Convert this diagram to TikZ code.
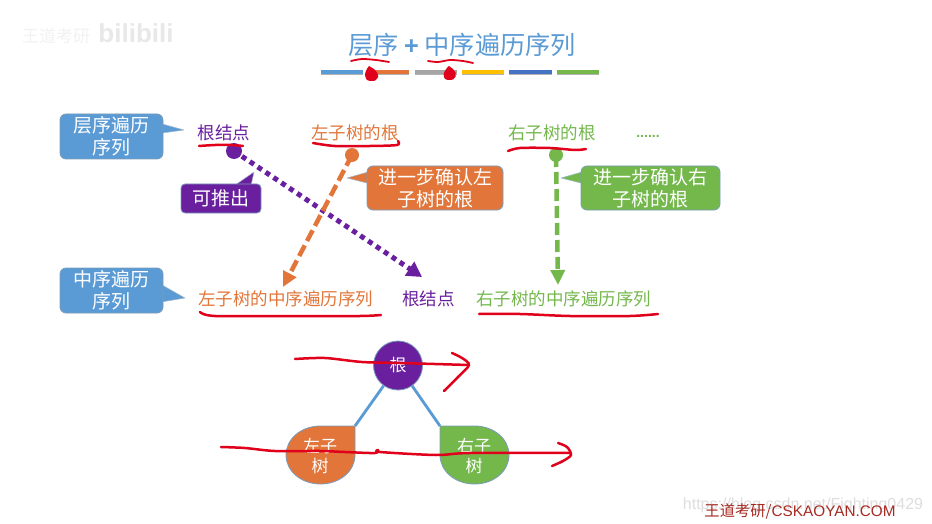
\documentclass[tikz,border=0pt]{standalone}
\usepackage{fontspec}
\setmainfont{Noto Sans CJK SC}
\newfontfamily\latinfont{Liberation Sans}
\usetikzlibrary{arrows.meta,shadows}
\definecolor{cblue}{HTML}{5B9BD5}
\definecolor{corange}{HTML}{E2763A}
\definecolor{cgreen}{HTML}{74B84C}
\definecolor{cpurple}{HTML}{6A209E}
\definecolor{cgray}{HTML}{A5A5A5}
\definecolor{cyellow}{HTML}{FFC000}
\definecolor{cdark}{HTML}{4472C4}
\definecolor{cedge}{HTML}{41719C}
\definecolor{cred}{HTML}{E0001B}
\definecolor{ccredit}{HTML}{A52A22}
\tikzset{
  fs/.style={font=\fontsize{#1}{22}\selectfont},
  lab/.style={inner sep=0pt,fs=17.5},
  box/.style={draw=cedge!70,line width=0.8pt,rounded corners=6pt,inner sep=0pt,align=center,text=white,fs=19},
  tail/.style={draw=cedge!50,line width=0.5pt,line join=round},
  bar/.style={line width=4pt,preaction={draw=black!30,line width=4pt,transform canvas={yshift=-1.5pt}}},
  dot/.style={circle,inner sep=0pt,minimum size=#1},
  ink/.style={draw=cred,line width=2.5pt,line cap=round,line join=round},
  tree/.style={draw=cedge!70,line width=0.8pt},
  link/.style={draw=cblue,line width=2.8pt},
  purpleflow/.style={draw=cpurple,line width=5pt,dash pattern=on 5pt off 4.5pt,-{Triangle[length=15pt,width=16pt,fill=cpurple]}},
  flow/.style={line width=4.5pt,dash pattern=on 12pt off 5pt},
}
\begin{document}
\begin{tikzpicture}[x=1pt,y=-1pt,every node/.append style={anchor=center}]
\useasboundingbox (0,0) rectangle (932,524);
\fill[white] (0,0) rectangle (932,524);

% watermarks
\node (wm1) at (56,36) [inner sep=0pt,font=\fontsize{17}{17}\selectfont,text=black!5] {王道考研};
\node (wm2) at (136,33) [inner sep=0pt,font=\latinfont\bfseries\fontsize{26}{26}\selectfont,text=black!9] {bilibili};
\node (wm3) at (803,505) [inner sep=0pt,font=\latinfont\fontsize{16}{16}\selectfont,text=black!13] {https://blog.csdn.net/Fighting0429};

% title
\node (title) at (462,45) [inner sep=0pt,font=\fontsize{25.2}{25.2}\selectfont,text=cblue] {层序 {\latinfont\bfseries +} 中序遍历序列};

% colour bars
\draw[bar,draw=cblue] (321,72) -- (363,72);
\draw[bar,draw=corange] (368,72) -- (409,72);
\draw[bar,draw=cgray] (415,72) -- (457,72);
\draw[bar,draw=cyellow] (462,72) -- (504,72);
\draw[bar,draw=cdark] (509,72) -- (552,72);
\draw[bar,draw=cgreen] (557,72) -- (599,72);

% callout tails and boxes
\draw[tail,fill=cblue] (155,122) -- (184,130) -- (155,134) -- cycle;
\node (cbA) at (111.5,136.5) [box,fill=cblue,minimum width=103pt,minimum height=45pt] {层序遍历\\序列};
\draw[tail,fill=cblue] (155,281) -- (185,298) -- (155,303) -- cycle;
\node (cbB) at (111.5,290.5) [box,fill=cblue,minimum width=103pt,minimum height=45pt] {中序遍历\\序列};
\draw[tail,fill=cpurple] (228,190) -- (254,172) -- (250,190) -- cycle;
\node (cbC) at (221,198.5) [box,fill=cpurple,rounded corners=4pt,minimum width=80pt,minimum height=29pt] {可推出};
\draw[tail,fill=corange] (375,170) -- (347,178) -- (375,185) -- cycle;
\node (cbD) at (435,188) [box,fill=corange,minimum width=136pt,minimum height=44pt] {进一步确认左\\子树的根};
\draw[tail,fill=cgreen] (589,170) -- (561,178) -- (589,185) -- cycle;
\node (cbE) at (650.5,188) [box,fill=cgreen,minimum width=139pt,minimum height=44pt] {进一步确认右\\子树的根};

% top labels
\node (rootT) at (224,133) [lab,text=cpurple] {根结点};
\node (leftT) at (355,133) [lab,text=corange] {左子树的根};
\node (rightT) at (552,133) [lab,text=cgreen] {右子树的根};
\node (dots) at (648,136) [inner sep=0pt,font=\latinfont\bfseries\fontsize{14}{14}\selectfont,text=cgreen] {......};

% bottom labels
\node (leftB) at (285.5,299) [lab,text=corange] {左子树的中序遍历序列};
\node (rootB) at (428.5,299) [lab,text=cpurple] {根结点};
\node (rightB) at (563.5,299) [lab,text=cgreen] {右子树的中序遍历序列};

% flow connectors
\node (dotP) at (234,151) [dot=16pt,fill=cpurple] {};
\node (dotO) at (352,155) [dot=14pt,fill=corange] {};
\node (dotG) at (556,155) [dot=14pt,fill=cgreen] {};
\coordinate (tipP) at (422,277);
\coordinate (tipO) at (283,287);
\coordinate (tipG) at (558,285);
\draw[purpleflow] (dotP.center) -- (tipP);
\draw[flow,draw=corange,-{Triangle[length=15pt,width=14pt,fill=corange]}] (dotO.center) -- (tipO);
\draw[flow,draw=cgreen,-{Triangle[length=15pt,width=14pt,fill=cgreen]}] (dotG.center) -- (tipG);

% tree
\coordinate (leftCorner) at (355,426);
\coordinate (rightCorner) at (440,426);
\node (treeRoot) at (398,365.5) [circle,inner sep=0pt,minimum size=49pt,fill=cpurple,tree,text=white,font=\fontsize{17}{20}\selectfont] {根};
\draw[link] (treeRoot) -- (leftCorner);
\draw[link] (treeRoot) -- (rightCorner);
\draw[tree,fill=corange] (355,426) -- (355,455) .. controls (355,471) and (340,484) .. (320.5,484)
  .. controls (301,484) and (286,471) .. (286,455) .. controls (286,439) and (301,426) .. (320.5,426) -- cycle;
\draw[tree,fill=cgreen] (440,426) -- (440,455) .. controls (440,471) and (455,484) .. (474.5,484)
  .. controls (494,484) and (509,471) .. (509,455) .. controls (509,439) and (494,426) .. (474.5,426) -- cycle;
\node (treeL) at (320,456.5) [inner sep=0pt,align=center,text=white,font=\fontsize{17}{20}\selectfont] {左子\\树};
\node (treeR) at (474,456.5) [inner sep=0pt,align=center,text=white,font=\fontsize{17}{20}\selectfont] {右子\\树};

% red ink
\draw[ink,line width=1.8pt] plot[smooth] coordinates {(351,61) (362,59) (376,60) (389,62)};
\draw[ink,line width=1.8pt] plot[smooth] coordinates {(428,61) (438,62) (450,60) (463,61) (473,63)};
\fill[cred] (369,66) .. controls (364,72) and (363,80) .. (370,81) .. controls (380,82) and (380,74) .. (374,69) -- cycle;
\fill[cred] (449,66) .. controls (443,71) and (441,79) .. (448,80) .. controls (457,81) and (458,73) .. (453,69) -- cycle;
\draw[ink] plot[smooth] coordinates {(199,146) (215,145) (232,145) (243,146)};
\draw[ink] plot[smooth] coordinates {(313,143) (335,146) (370,146) (397,145) (398,141)};
\draw[ink] plot[smooth] coordinates {(508,151) (520,148) (550,148) (575,150) (586,149)};
\draw[ink] plot[smooth] coordinates {(200,312) (215,316) (290,316) (360,316) (381,315)};
\draw[ink] plot[smooth] coordinates {(479,314) (520,314) (570,316) (630,316) (658,314)};
\draw[ink] plot[smooth] coordinates {(295,359) (325,358) (362,362) (400,363) (469,365)};
\draw[ink] plot[smooth] coordinates {(452,353) (462,358) (469,365) (458,377) (444,391)};
\draw[ink] plot[smooth] coordinates {(221,447) (245,448) (275,451) (320,451) (345,452) (375,453) (378,450) (380,452) (436,455) (470,453) (570,453)};
\draw[ink] plot[smooth] coordinates {(558,443) (567,447) (571,455) (563,461) (552,466)};

% credit
\node (credit) at (800,511) [inner sep=0pt,font=\fontsize{15.3}{15.3}\selectfont,text=ccredit] {王道考研/{\latinfont CSKAOYAN.COM}};
\end{tikzpicture}
\end{document}
